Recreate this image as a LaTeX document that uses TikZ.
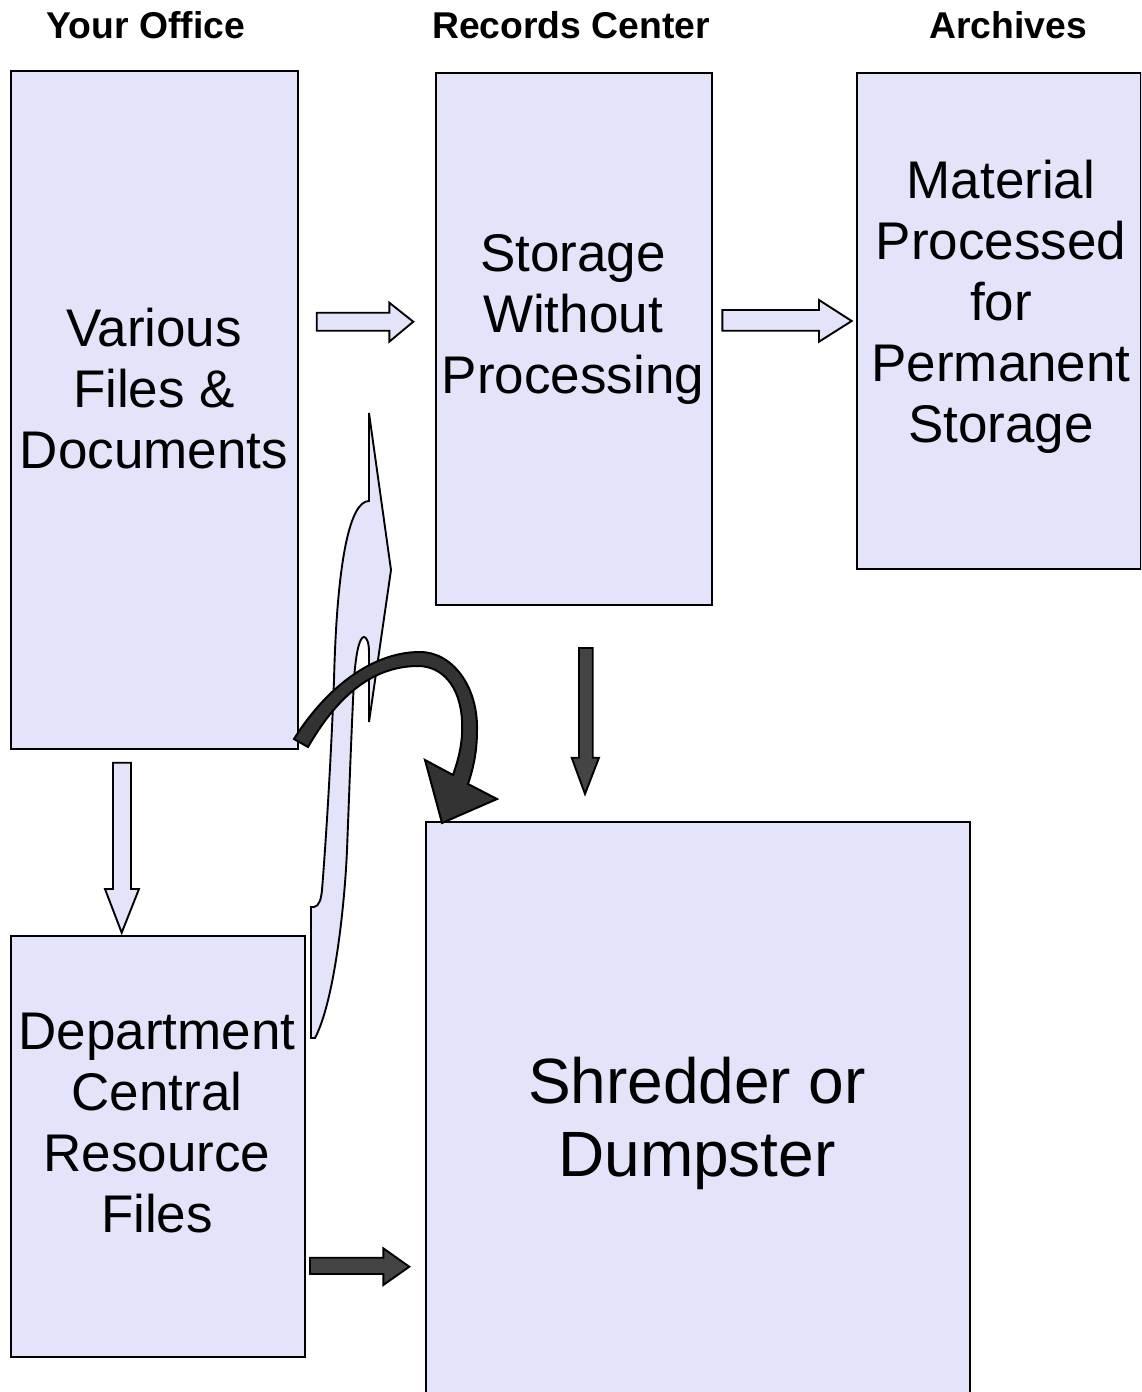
\documentclass[tikz,border=0pt]{standalone}
\usepackage{fontspec}
\setmainfont{Liberation Sans}
\definecolor{lav}{RGB}{227,227,250}
\definecolor{dkcurve}{RGB}{51,51,51}
\definecolor{dkarrow}{RGB}{68,68,68}
\begin{document}
\begin{tikzpicture}[x=1pt,y=-1pt,
  box/.style={draw=black, line width=1.7pt, fill=lav, inner sep=0pt, anchor=north west},
  lbl/.style={font=\fontsize{53}{61}\selectfont, align=center, inner sep=0pt},
  biglbl/.style={font=\fontsize{64}{73}\selectfont, align=center, inner sep=0pt},
  hdr/.style={font=\fontsize{37.3}{42}\selectfont\bfseries, inner sep=0pt},
  hollow/.style={draw=black, line width=1.9pt, fill=lav, line join=miter},
  solidarrow/.style={draw=black, line width=1.9pt, fill=dkarrow, line join=miter},
  curvearrow/.style={draw=black, line width=2pt, fill=dkcurve, line join=miter}]
\useasboundingbox (0,0) rectangle (1141,1392);
\clip (0,0) rectangle (1141,1392);
\fill[white] (0,0) rectangle (1141,1392);

% headers
\node[hdr] (h1) at (146,25) {Your Office};
\node[hdr] (h2) at (571,25) {Records Center};
\node[hdr] (h3) at (1008,25) {Archives};

% boxes
\node[box, minimum width=287pt, minimum height=678pt] (office) at (10,70) {};
\node[box, minimum width=276pt, minimum height=532pt] (records) at (435,72) {};
\node[box, minimum width=284pt, minimum height=496pt] (archives) at (856,72) {};
\node[box, minimum width=294pt, minimum height=421pt] (dept) at (10,935) {};
\node[box, minimum width=544pt, minimum height=576pt] (shred) at (425,821) {};

% labels
\node[lbl] (officeT) at (154,389) {Various\\Files \&\\Documents};
\node[lbl] (recordsT) at (573,319) {Storage\\Without\\Processing};
\node[lbl] (archivesT) at (1001,307) {Material\\Processed\\for\\Permanent\\Storage};
\node[lbl] (deptT) at (157,1123) {Department\\Central\\Resource\\Files};
\node[biglbl] (shredT) at (697,1123) {Shredder or\\Dumpster};

% S-shaped curved right arrow (Department -> Records)
\path[hollow] (311,1038) -- (311,907) -- (314,907)
  .. controls (319,906) and (321,900) .. (322,890)
  .. controls (326,840) and (331,760) .. (334,680)
  .. controls (337,560) and (350,501) .. (369,501)
  -- (369,413) -- (391,570) -- (369,722) -- (369,652)
  .. controls (369,641) and (366,637) .. (364,637)
  .. controls (360,637) and (356,650) .. (354,680)
  .. controls (351,740) and (349,800) .. (347,850)
  .. controls (345,900) and (335,1000) .. (315,1038) -- cycle;

% big curved arrow (Office -> Shredder)
\path[curvearrow] (294,739)
  .. controls (322,694) and (368,652) .. (420,652)
  .. controls (452,652) and (478,686) .. (477,730)
  .. controls (477,755) and (472,772) .. (468,784)
  -- (497,799) -- (442,823) -- (425,760) -- (453,775)
  .. controls (460,755) and (463,740) .. (462,720)
  .. controls (460,686) and (442,666) .. (418,666)
  .. controls (370,666) and (335,700) .. (308,747) -- cycle;

% hollow block arrows
\path[hollow] (316.7,312.7) -- (389.3,312.7) -- (389.3,302.7) -- (413.3,321.7)
  -- (389.3,341.7) -- (389.3,330.7) -- (316.7,330.7) -- cycle;
\path[hollow] (722.3,310) -- (819,310) -- (819,300) -- (851.7,321)
  -- (819,341.7) -- (819,330.7) -- (722.3,330.7) -- cycle;
\path[hollow] (113,762.7) -- (131,762.7) -- (131,889) -- (139,889) -- (121.7,932.7)
  -- (105,889) -- (113,889) -- cycle;

% dark block arrows
\path[solidarrow] (579,648) -- (592.7,648) -- (592.7,757.7) -- (599,757.7) -- (585,794)
  -- (571.7,757.7) -- (579,757.7) -- cycle;
\path[solidarrow] (310,1257.7) -- (383.3,1257.7) -- (383.3,1248.3) -- (409.3,1266.7)
  -- (383.3,1285) -- (383.3,1274) -- (310,1274) -- cycle;
\end{tikzpicture}
\end{document}
